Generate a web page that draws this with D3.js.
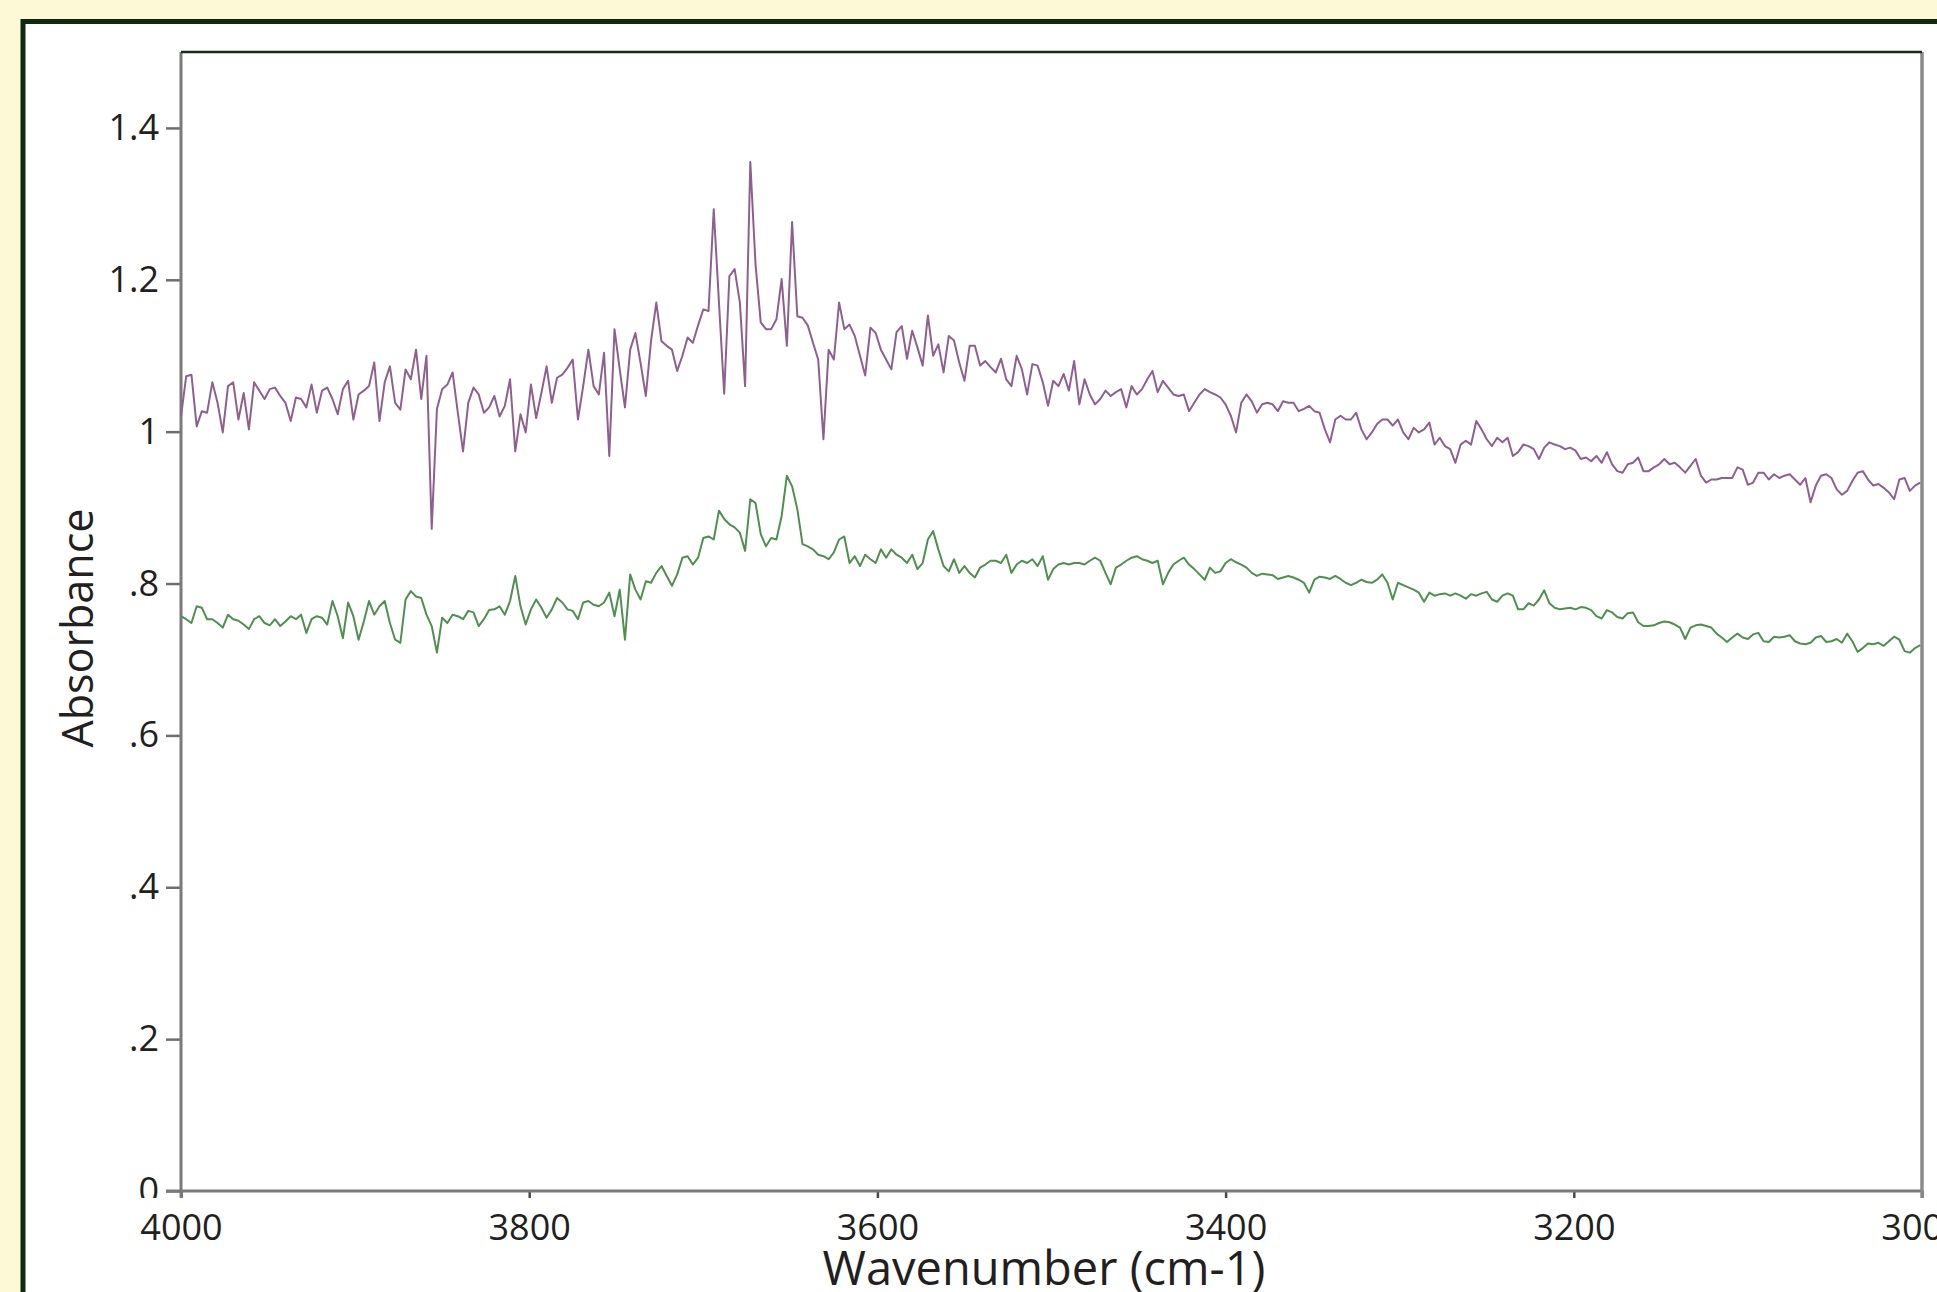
<!DOCTYPE html>
<html>
<head>
<meta charset="utf-8">
<script src="https://cdn.jsdelivr.net/npm/d3@7"></script>
<style>
  body { margin: 0; background: #fdf8d5; }
  svg { display: block; }
</style>
</head>
<body>
<script>
// spectra sampled every 3 cm-1, from 4000 down to 3001
var wnStart = 4000;
var wnStep = 3;

var xTicks = [4000, 3800, 3600, 3400, 3200, 3000];
var yTicks = [0, 0.2, 0.4, 0.6, 0.8, 1, 1.2, 1.4];

// upper (purple) trace
var upperSpectrum = [
  1.020, 1.073, 1.075, 1.007, 1.027, 1.025, 1.065, 1.038, 0.999, 1.060,
  1.065, 1.016, 1.051, 1.003, 1.065, 1.054, 1.043, 1.056, 1.058, 1.047,
  1.038, 1.014, 1.045, 1.043, 1.032, 1.062, 1.025, 1.054, 1.058, 1.043,
  1.023, 1.056, 1.067, 1.016, 1.049, 1.054, 1.060, 1.091, 1.014, 1.065,
  1.086, 1.038, 1.029, 1.082, 1.069, 1.108, 1.043, 1.100, 0.872, 1.030,
  1.056, 1.062, 1.078, 1.025, 0.974, 1.038, 1.058, 1.049, 1.025, 1.032,
  1.047, 1.020, 1.034, 1.069, 0.974, 1.023, 0.999, 1.062, 1.018, 1.051,
  1.086, 1.038, 1.071, 1.075, 1.084, 1.095, 1.016, 1.060, 1.108, 1.060,
  1.049, 1.104, 0.968, 1.135, 1.082, 1.032, 1.108, 1.130, 1.090, 1.047,
  1.120, 1.170, 1.119, 1.113, 1.108, 1.080, 1.100, 1.124, 1.117, 1.140,
  1.161, 1.159, 1.293, 1.170, 1.050, 1.205, 1.214, 1.170, 1.060, 1.355,
  1.220, 1.144, 1.135, 1.135, 1.148, 1.201, 1.113, 1.276, 1.152, 1.150,
  1.140, 1.117, 1.095, 0.990, 1.108, 1.095, 1.170, 1.135, 1.141, 1.126,
  1.100, 1.074, 1.137, 1.130, 1.108, 1.095, 1.082, 1.131, 1.139, 1.096,
  1.133, 1.111, 1.087, 1.153, 1.100, 1.115, 1.078, 1.126, 1.120, 1.091,
  1.067, 1.113, 1.113, 1.087, 1.093, 1.085, 1.078, 1.096, 1.069, 1.060,
  1.100, 1.082, 1.049, 1.089, 1.087, 1.065, 1.034, 1.067, 1.060, 1.076,
  1.054, 1.093, 1.036, 1.069, 1.049, 1.036, 1.043, 1.054, 1.047, 1.052,
  1.056, 1.032, 1.060, 1.049, 1.056, 1.069, 1.080, 1.052, 1.067, 1.058,
  1.049, 1.047, 1.049, 1.027, 1.038, 1.049, 1.056, 1.052, 1.049, 1.045,
  1.036, 1.021, 0.999, 1.038, 1.049, 1.040, 1.025, 1.036, 1.038, 1.036,
  1.027, 1.040, 1.038, 1.038, 1.027, 1.030, 1.034, 1.027, 1.025, 1.003,
  0.986, 1.016, 1.021, 1.016, 1.016, 1.025, 1.003, 0.990, 0.999, 1.010,
  1.016, 1.016, 1.008, 1.016, 0.999, 0.990, 1.005, 0.999, 1.003, 1.012,
  0.983, 0.992, 0.981, 0.977, 0.959, 0.983, 0.988, 0.983, 1.014, 1.003,
  0.990, 0.981, 0.992, 0.986, 0.992, 0.968, 0.973, 0.983, 0.981, 0.977,
  0.964, 0.979, 0.986, 0.983, 0.981, 0.977, 0.979, 0.975, 0.964, 0.966,
  0.961, 0.968, 0.959, 0.973, 0.957, 0.948, 0.946, 0.957, 0.959, 0.966,
  0.948, 0.948, 0.953, 0.957, 0.964, 0.957, 0.959, 0.953, 0.946, 0.955,
  0.964, 0.942, 0.933, 0.937, 0.937, 0.939, 0.939, 0.939, 0.953, 0.950,
  0.930, 0.933, 0.946, 0.946, 0.937, 0.944, 0.939, 0.942, 0.944, 0.937,
  0.930, 0.939, 0.907, 0.929, 0.942, 0.944, 0.939, 0.924, 0.917, 0.922,
  0.935, 0.946, 0.948, 0.937, 0.929, 0.931, 0.926, 0.920, 0.911, 0.937,
  0.939, 0.922, 0.929, 0.933
];

// lower (green) trace
var lowerSpectrum = [
  0.757, 0.753, 0.748, 0.770, 0.768, 0.753, 0.753, 0.748, 0.742, 0.759,
  0.753, 0.751, 0.746, 0.740, 0.753, 0.757, 0.748, 0.745, 0.753, 0.744,
  0.750, 0.757, 0.753, 0.759, 0.735, 0.753, 0.757, 0.755, 0.746, 0.777,
  0.757, 0.728, 0.775, 0.757, 0.726, 0.750, 0.777, 0.759, 0.770, 0.777,
  0.748, 0.726, 0.722, 0.779, 0.790, 0.783, 0.781, 0.759, 0.744, 0.709,
  0.755, 0.748, 0.759, 0.757, 0.753, 0.764, 0.762, 0.744, 0.753, 0.765,
  0.766, 0.770, 0.759, 0.777, 0.810, 0.770, 0.746, 0.766, 0.779, 0.768,
  0.755, 0.766, 0.781, 0.775, 0.766, 0.764, 0.753, 0.775, 0.777, 0.772,
  0.770, 0.775, 0.788, 0.757, 0.792, 0.726, 0.812, 0.792, 0.779, 0.803,
  0.801, 0.814, 0.823, 0.810, 0.797, 0.812, 0.834, 0.836, 0.825, 0.834,
  0.860, 0.862, 0.858, 0.896, 0.885, 0.878, 0.874, 0.867, 0.843, 0.911,
  0.906, 0.865, 0.849, 0.860, 0.858, 0.889, 0.942, 0.928, 0.898, 0.852,
  0.849, 0.845, 0.838, 0.836, 0.832, 0.841, 0.858, 0.862, 0.827, 0.836,
  0.823, 0.838, 0.832, 0.827, 0.845, 0.834, 0.845, 0.838, 0.834, 0.827,
  0.838, 0.819, 0.827, 0.858, 0.869, 0.845, 0.823, 0.816, 0.832, 0.814,
  0.823, 0.814, 0.808, 0.821, 0.825, 0.830, 0.830, 0.827, 0.838, 0.814,
  0.825, 0.830, 0.827, 0.832, 0.823, 0.836, 0.805, 0.819, 0.825, 0.827,
  0.825, 0.827, 0.827, 0.825, 0.830, 0.834, 0.830, 0.814, 0.799, 0.821,
  0.825, 0.830, 0.834, 0.836, 0.832, 0.830, 0.827, 0.830, 0.799, 0.814,
  0.825, 0.830, 0.834, 0.825, 0.819, 0.812, 0.805, 0.821, 0.814, 0.816,
  0.827, 0.832, 0.828, 0.825, 0.821, 0.814, 0.810, 0.813, 0.812, 0.811,
  0.806, 0.808, 0.810, 0.808, 0.805, 0.801, 0.788, 0.805, 0.809, 0.808,
  0.806, 0.810, 0.806, 0.801, 0.798, 0.801, 0.805, 0.802, 0.801, 0.805,
  0.812, 0.801, 0.779, 0.801, 0.798, 0.795, 0.792, 0.788, 0.776, 0.788,
  0.784, 0.786, 0.787, 0.784, 0.787, 0.784, 0.780, 0.786, 0.784, 0.787,
  0.789, 0.779, 0.776, 0.784, 0.787, 0.784, 0.766, 0.766, 0.774, 0.771,
  0.779, 0.791, 0.774, 0.768, 0.766, 0.767, 0.768, 0.766, 0.769, 0.768,
  0.765, 0.757, 0.754, 0.765, 0.762, 0.756, 0.754, 0.761, 0.762, 0.749,
  0.744, 0.744, 0.745, 0.748, 0.750, 0.749, 0.746, 0.742, 0.727, 0.742,
  0.745, 0.746, 0.744, 0.742, 0.734, 0.729, 0.723, 0.729, 0.734, 0.729,
  0.727, 0.733, 0.735, 0.724, 0.723, 0.730, 0.729, 0.730, 0.732, 0.724,
  0.721, 0.720, 0.722, 0.729, 0.731, 0.723, 0.724, 0.727, 0.722, 0.734,
  0.724, 0.710, 0.715, 0.721, 0.720, 0.722, 0.718, 0.724, 0.730, 0.726,
  0.711, 0.709, 0.715, 0.719
];

var svgWidth = 1937;
var svgHeight = 1292;

var margin = { top: 52, right: 15, bottom: 101, left: 181 };
var chartwidth = svgWidth - margin.left - margin.right;
var chartheight = svgHeight - margin.top - margin.bottom;

var svg = d3.select("body")
  .append("svg")
  .attr("width", svgWidth)
  .attr("height", svgHeight);

// cream page with dark framed white panel
svg.append("rect")
  .attr("width", svgWidth)
  .attr("height", svgHeight)
  .attr("fill", "#fdf8d5");

svg.append("rect")
  .attr("x", 23)
  .attr("y", 21.5)
  .attr("width", svgWidth)
  .attr("height", svgHeight)
  .attr("fill", "#ffffff")
  .attr("stroke", "#0f2a10")
  .attr("stroke-width", 5);

var chartGroup = svg.append("g")
  .attr("transform", `translate(${margin.left}, ${margin.top})`);

// scales
var xScale = d3.scaleLinear()
  .domain([4000, 3000])
  .range([0, chartwidth]);

var yScale = d3.scaleLinear()
  .domain([0, 1.5])
  .range([chartheight, 0]);

var fontFamily = "'Open Sans', 'Liberation Sans', sans-serif";

// y axis: 1.4, 1.2, 1, .8 ...
var yFormat = function(d) {
  return d3.format("~g")(d).replace(/^0\./, ".");
};

svg.append("clipPath")
  .attr("id", "yclip")
  .append("rect")
  .attr("x", -margin.left)
  .attr("y", -margin.top)
  .attr("width", margin.left)
  .attr("height", chartheight + margin.top + 7);

var leftAxis = d3.axisLeft(yScale)
  .tickValues(yTicks)
  .tickSize(15)
  .tickPadding(7)
  .tickFormat(yFormat);

var yAxisGroup = chartGroup.append("g")
  .attr("clip-path", "url(#yclip)")
  .call(leftAxis);

yAxisGroup.select(".domain").remove();
yAxisGroup.selectAll("line")
  .attr("stroke", "#6e6e6e")
  .attr("stroke-width", 2.5);
yAxisGroup.selectAll("text")
  .attr("font-family", fontFamily)
  .attr("font-size", 36)
  .attr("fill", "#231f20");

// x axis
var bottomAxis = d3.axisBottom(xScale)
  .tickValues(xTicks)
  .tickSize(7)
  .tickPadding(16)
  .tickFormat(d3.format("d"));

var xAxisGroup = chartGroup.append("g")
  .attr("transform", `translate(0, ${chartheight})`)
  .call(bottomAxis);

xAxisGroup.select(".domain").remove();
xAxisGroup.selectAll("line")
  .attr("stroke", "#4a4a4a")
  .attr("stroke-width", 2.5);
xAxisGroup.selectAll("text")
  .attr("font-family", fontFamily)
  .attr("font-size", 36)
  .attr("fill", "#231f20");

// plot frame: gray left/bottom/right, dark top
chartGroup.append("line")
  .attr("x1", -15).attr("x2", chartwidth)
  .attr("y1", chartheight).attr("y2", chartheight)
  .attr("stroke", "#7a7a7a")
  .attr("stroke-width", 3);

chartGroup.append("line")
  .attr("x1", 0).attr("x2", 0)
  .attr("y1", 0).attr("y2", chartheight + 7)
  .attr("stroke", "#7a7a7a")
  .attr("stroke-width", 3);

chartGroup.append("line")
  .attr("x1", chartwidth).attr("x2", chartwidth)
  .attr("y1", 0).attr("y2", chartheight + 7)
  .attr("stroke", "#8a8a8a")
  .attr("stroke-width", 3.5);

chartGroup.append("line")
  .attr("x1", 0).attr("x2", chartwidth)
  .attr("y1", 0).attr("y2", 0)
  .attr("stroke", "#1b2b1b")
  .attr("stroke-width", 2.5);

// line generator over the wavenumber grid
var spectrumLine = d3.line()
  .x((d, i) => xScale(wnStart - wnStep * i))
  .y(d => yScale(d));

chartGroup.append("path")
  .datum(lowerSpectrum)
  .attr("d", spectrumLine)
  .attr("fill", "none")
  .attr("stroke", "#4f8f4f")
  .attr("stroke-width", 2)
  .attr("stroke-linejoin", "round");

chartGroup.append("path")
  .datum(upperSpectrum)
  .attr("d", spectrumLine)
  .attr("fill", "none")
  .attr("stroke", "#8f5f8f")
  .attr("stroke-width", 2)
  .attr("stroke-linejoin", "round");

// axis titles
svg.append("text")
  .attr("transform", "translate(93, 628) rotate(-90)")
  .attr("text-anchor", "middle")
  .attr("font-family", fontFamily)
  .attr("font-size", 43)
  .attr("fill", "#231f20")
  .text("Absorbance");

svg.append("text")
  .attr("x", 1044)
  .attr("y", 1285)
  .attr("text-anchor", "middle")
  .attr("font-family", fontFamily)
  .attr("font-size", 47)
  .attr("fill", "#231f20")
  .text("Wavenumber (cm-1)");
</script>
</body>
</html>
